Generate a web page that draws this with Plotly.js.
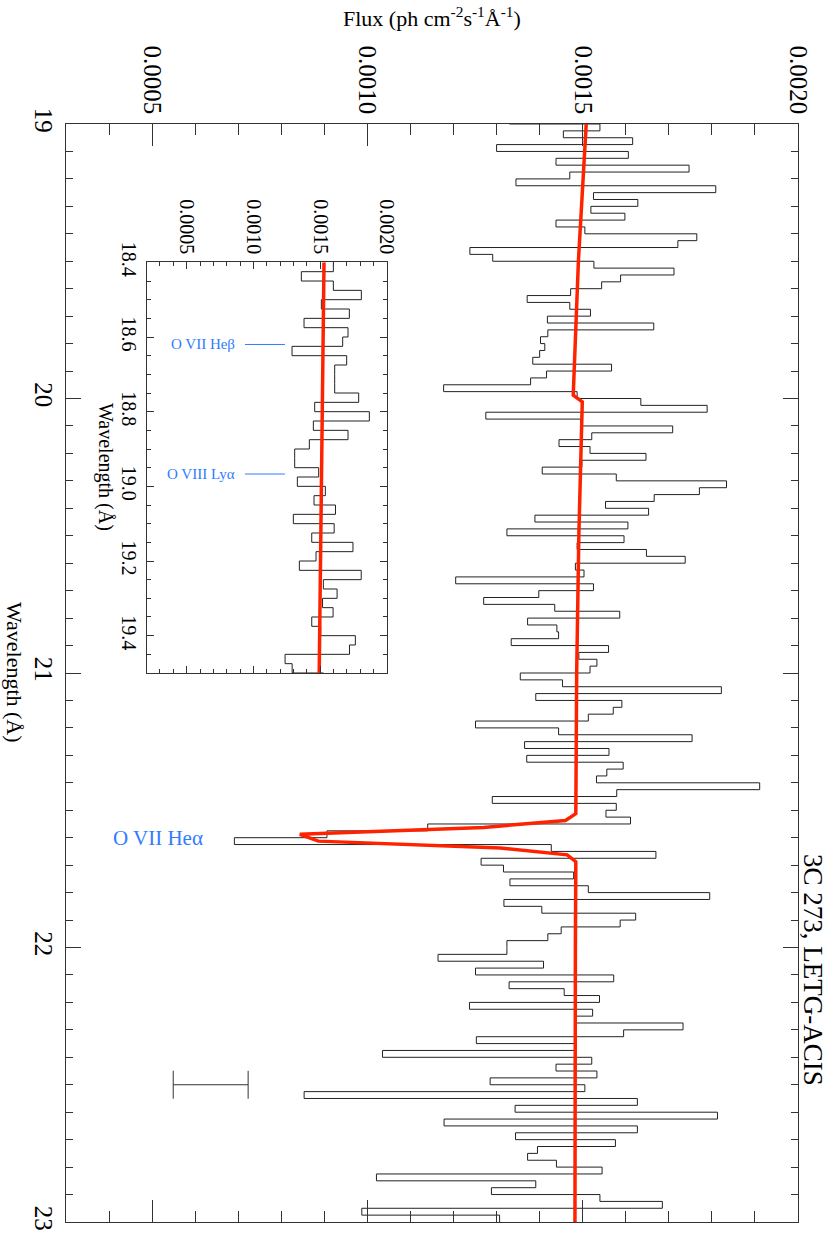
<!DOCTYPE html>
<html>
<head>
<meta charset="utf-8">
<script src="https://cdn.plot.ly/plotly-3.0.1.min.js"></script>
<style>
  body { margin: 0; background: #fff; }
  #plot { width: 830px; height: 1235px; }
</style>
</head>
<body>
<div id="plot"></div>
<script>
// spectrum, 0.025 A bins starting at 18.4 A (inset shows 18.4-19.5, main 19-23)
var binStart = 18.4;
var binWidth = 0.025;
var fluxValues = [
  // 18.400 - 19.000
  0.00160, 0.00136, 0.00160, 0.00181, 0.00151, 0.00172, 0.00138, 0.00171, 0.00167, 0.00129,
  0.00170, 0.00161, 0.00161, 0.00161, 0.00179, 0.00146, 0.00187, 0.00145, 0.00171, 0.00142,
  0.00131, 0.00131, 0.00149, 0.00133,
  // 19.000 - 19.500
  0.001540, 0.001455, 0.001616, 0.001300, 0.001606, 0.001438, 0.001747, 0.001470, 0.001345, 0.001809,
  0.001525, 0.001628, 0.001519, 0.001598, 0.001438, 0.001505, 0.001765, 0.001721, 0.001238, 0.001291,
  // 19.500 - 20.000
  0.001526, 0.001712, 0.001588, 0.001544, 0.001472, 0.001371, 0.001470, 0.001518, 0.001418, 0.001665,
  0.001419, 0.001402, 0.001412, 0.001400, 0.001384, 0.001567, 0.001416, 0.001379, 0.001177, 0.001487,
  // 20.000 - 20.500
  0.001635, 0.001789, 0.001275, 0.001495, 0.001709, 0.001521, 0.001445, 0.001517, 0.001647, 0.001498,
  0.001406, 0.001578, 0.001834, 0.001771, 0.001666, 0.001553, 0.001653, 0.001389, 0.001605, 0.001324,
  // 20.500 - 21.000
  0.001596, 0.001487, 0.001648, 0.001738, 0.001483, 0.001503, 0.001205, 0.001525, 0.001398, 0.001270,
  0.001435, 0.001586, 0.001372, 0.001440, 0.001444, 0.001334, 0.001560, 0.001491, 0.001533, 0.001517,
  // 21.000 - 21.500
  0.001355, 0.001453, 0.001822, 0.001391, 0.001591, 0.001571, 0.001513, 0.001251, 0.001444, 0.001754,
  0.001365, 0.001561, 0.001370, 0.001594, 0.001556, 0.001532, 0.001911, 0.001579, 0.001290, 0.001578,
  // 21.500 - 22.000
  0.001554, 0.001611, 0.001140, 0.000906, 0.000691, 0.001427, 0.001670, 0.001264, 0.001316, 0.001479,
  0.001331, 0.001513, 0.001795, 0.001317, 0.001405, 0.001623, 0.001587, 0.001450, 0.001419, 0.001324,
  // 22.000 - 22.500
  0.001324, 0.001164, 0.001409, 0.001251, 0.001572, 0.001329, 0.001457, 0.001539, 0.001237, 0.001523,
  0.001485, 0.001733, 0.001595, 0.001253, 0.001485, 0.001035, 0.001521, 0.001438, 0.001533, 0.001285,
  // 22.500 - 23.000
  0.001505, 0.000853, 0.001627, 0.001343, 0.001813, 0.001178, 0.001627, 0.001344, 0.001576, 0.001395,
  0.001372, 0.001439, 0.001545, 0.001021, 0.001391, 0.001288, 0.001540, 0.001685, 0.000987, 0.001307
];

// model (red)
var modelWave = [18.4, 19.0, 19.5, 19.9875, 20.0125, 20.5, 21.0, 21.5125, 21.5375, 21.5625,
                 21.5875, 21.6125, 21.6375, 21.6625, 21.6875, 22.0, 23.0];
var modelFlux = [0.001530, 0.001508, 0.001490, 0.001478, 0.001499, 0.001491, 0.001486, 0.001484, 0.001460, 0.001270,
                 0.000843, 0.000886, 0.001309, 0.001464, 0.001484, 0.001483, 0.001482];

// typical error bar
var errWave = [22.5];
var errFlux = [0.000636];
var errHalf = [0.000087];

// line ids
var insetLineNames = ['O VII He&#946;', 'O VIII Ly&#945;'];
var insetLineWaves = [18.62, 18.967];
var mainLineName = 'O VII He&#945;';
var mainLineWave = 21.6;

// bin edges for the step line
var histWave = fluxValues.map((f, i) => +(binStart + i * binWidth).toFixed(3));
histWave.push(+(binStart + fluxValues.length * binWidth).toFixed(3));
var histFlux = fluxValues.concat([fluxValues[fluxValues.length - 1]]);

var serif = 'Liberation Serif, DejaVu Serif, serif';
var blue = '#2f7cff';
var axisCol = '#333';

var histMain = {x: histFlux, y: histWave, xaxis: 'x', yaxis: 'y', type: 'scatter', mode: 'lines',
  line: {shape: 'vh', color: '#222', width: 1}, hoverinfo: 'skip'};
var modelMain = {x: modelFlux, y: modelWave, xaxis: 'x', yaxis: 'y', type: 'scatter', mode: 'lines',
  line: {color: '#ff2200', width: 3.5}, hoverinfo: 'skip'};
var histInset = {x: histFlux, y: histWave, xaxis: 'x2', yaxis: 'y2', type: 'scatter', mode: 'lines',
  line: {shape: 'vh', color: '#222', width: 1}, hoverinfo: 'skip'};
var modelInset = {x: modelFlux, y: modelWave, xaxis: 'x2', yaxis: 'y2', type: 'scatter', mode: 'lines',
  line: {color: '#ff2200', width: 3.5}, hoverinfo: 'skip'};
var errTrace = {x: errFlux, y: errWave, xaxis: 'x', yaxis: 'y', type: 'scatter', mode: 'markers',
  marker: {size: 1, color: 'rgba(0,0,0,0)'},
  error_x: {type: 'data', array: errHalf, visible: true, color: axisCol, thickness: 1, width: 14}};

function fluxAxis(extra) {
  var a = {
    side: 'top', tickformat: '.4f', tickangle: 90, dtick: 0.0005, tick0: 0,
    ticks: 'inside', ticklen: 22, tickwidth: 1, tickcolor: axisCol,
    minor: {dtick: 0.0001, tick0: 0, ticks: 'inside', ticklen: 11, tickcolor: axisCol, showgrid: false},
    showline: true, linecolor: axisCol, linewidth: 1, mirror: 'allticks',
    showgrid: false, zeroline: false, fixedrange: true, automargin: false,
    tickfont: {family: serif, size: 25, color: '#000'}
  };
  return Object.assign(a, extra);
}
function waveAxis(extra) {
  var a = {
    tickangle: 90, ticks: 'inside', ticklen: 15, tickwidth: 1, tickcolor: axisCol,
    minor: {ticks: 'inside', ticklen: 7, tickcolor: axisCol, showgrid: false},
    showline: true, linecolor: axisCol, linewidth: 1, mirror: 'allticks',
    showgrid: false, zeroline: false, fixedrange: true, automargin: false,
    tickfont: {family: serif, size: 25, color: '#000'}
  };
  return Object.assign(a, extra);
}

var layout = {
  width: 830, height: 1235,
  margin: {l: 66, r: 32, t: 124, b: 13},
  paper_bgcolor: '#fff', plot_bgcolor: '#fff',
  showlegend: false,
  font: {family: serif, color: '#000'},
  xaxis: fluxAxis({range: [0.0003, 0.0020], domain: [0, 1], anchor: 'y'}),
  yaxis: waveAxis({range: [23, 19], domain: [0, 1], anchor: 'x', dtick: 1, tick0: 19,
    minor: {dtick: 0.1, ticks: 'inside', ticklen: 7, tickcolor: axisCol, showgrid: false}}),
  xaxis2: fluxAxis({range: [0.0002, 0.0020], domain: [0.1102, 0.4381], anchor: 'y2',
    ticklen: 7, minor: {dtick: 0.0001, tick0: 0, ticks: 'inside', ticklen: 4, tickcolor: axisCol, showgrid: false},
    tickfont: {family: serif, size: 20, color: '#000'}}),
  yaxis2: waveAxis({range: [19.5, 18.4], domain: [0.5, 0.874], anchor: 'x2', dtick: 0.2, tick0: 18.4,
    tickformat: '.1f', ticklen: 7,
    minor: {dtick: 0.05, ticks: 'inside', ticklen: 4, tickcolor: axisCol, showgrid: false},
    tickfont: {family: serif, size: 20, color: '#000'}}),
  annotations: [
    {xref: 'paper', yref: 'paper', x: 0.5, y: 1.0975, xanchor: 'center', yanchor: 'middle',
     text: 'Flux (ph cm<sup>-2</sup>s<sup>-1</sup>Å<sup>-1</sup>)', showarrow: false, font: {family: serif, size: 22}},
    {xref: 'paper', yref: 'paper', x: -0.0697, y: 0.5, xanchor: 'center', yanchor: 'middle',
     text: 'Wavelength (Å)', textangle: 90, showarrow: false, font: {family: serif, size: 22}},
    {xref: 'paper', yref: 'paper', x: 0.0546, y: 0.6876, xanchor: 'center', yanchor: 'middle',
     text: 'Wavelength (Å)', textangle: 90, showarrow: false, font: {family: serif, size: 20}},
    {xref: 'paper', yref: 'paper', x: 1.0205, y: 0.2295, xanchor: 'center', yanchor: 'middle',
     text: '3C 273, LETG-ACIS', textangle: 90, showarrow: false, font: {family: serif, size: 27}},
    {xref: 'x', yref: 'y', x: 0.000623, y: mainLineWave, text: mainLineName, xanchor: 'right', yanchor: 'middle',
     showarrow: false, font: {family: serif, size: 21, color: blue}}
  ],
  shapes: []
};

insetLineNames.forEach(function (name, i) {
  layout.annotations.push({xref: 'x2', yref: 'y2', x: 0.000875, y: insetLineWaves[i], text: name,
    xanchor: 'right', yanchor: 'middle', showarrow: false, font: {family: serif, size: 15, color: blue}});
  layout.shapes.push({type: 'line', xref: 'x2', yref: 'y2', x0: 0.000937, x1: 0.001237,
    y0: insetLineWaves[i], y1: insetLineWaves[i], line: {color: blue, width: 1}});
});

Plotly.newPlot('plot', [histMain, modelMain, histInset, modelInset, errTrace], layout,
  {staticPlot: true, displayModeBar: false});
</script>
</body>
</html>
